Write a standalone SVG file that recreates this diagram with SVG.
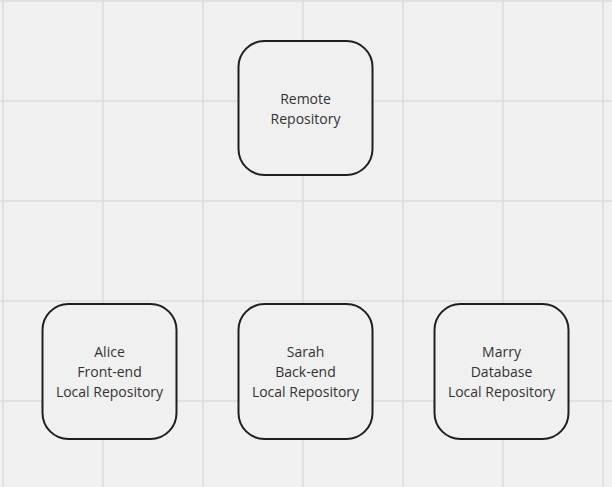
<svg xmlns="http://www.w3.org/2000/svg" width="612" height="487" viewBox="0 0 612 487">
<style>
.grid line{stroke:#dcdcdc;stroke-width:1.5}
.box{fill:#f0f0f0;stroke:#1e1e1e;stroke-width:2}
.lbl{font-family:"Open Sans","Noto Sans",sans-serif;font-size:14px;fill:#333;text-anchor:middle}
</style>
<rect width="612" height="487" fill="#f0f0f0"/>
<g class="grid">
<line x1="3" y1="0" x2="3" y2="487"/><line x1="103" y1="0" x2="103" y2="487"/><line x1="203" y1="0" x2="203" y2="487"/><line x1="303" y1="0" x2="303" y2="487"/><line x1="403" y1="0" x2="403" y2="487"/><line x1="503" y1="0" x2="503" y2="487"/><line x1="603" y1="0" x2="603" y2="487"/>
<line x1="0" y1="1" x2="612" y2="1"/><line x1="0" y1="101" x2="612" y2="101"/><line x1="0" y1="201" x2="612" y2="201"/><line x1="0" y1="301" x2="612" y2="301"/><line x1="0" y1="401" x2="612" y2="401"/>
</g>
<g id="connectors"></g>
<g id="remote">
<rect class="box" x="238.5" y="41" width="134" height="134" rx="26"/>
<text class="lbl" x="305.5" y="104">Remote</text>
<text class="lbl" x="305.5" y="124">Repository</text>
</g>
<g id="alice">
<rect class="box" x="42.5" y="304" width="134" height="135" rx="26"/>
<text class="lbl" x="109.5" y="357">Alice</text>
<text class="lbl" x="109.5" y="377">Front-end</text>
<text class="lbl" x="109.5" y="397">Local Repository</text>
</g>
<g id="sarah">
<rect class="box" x="238.5" y="304" width="134" height="135" rx="26"/>
<text class="lbl" x="305.5" y="357">Sarah</text>
<text class="lbl" x="305.5" y="377">Back-end</text>
<text class="lbl" x="305.5" y="397">Local Repository</text>
</g>
<g id="marry">
<rect class="box" x="434.5" y="304" width="134" height="135" rx="26"/>
<text class="lbl" x="501.5" y="357">Marry</text>
<text class="lbl" x="501.5" y="377">Database</text>
<text class="lbl" x="501.5" y="397">Local Repository</text>
</g>
</svg>
